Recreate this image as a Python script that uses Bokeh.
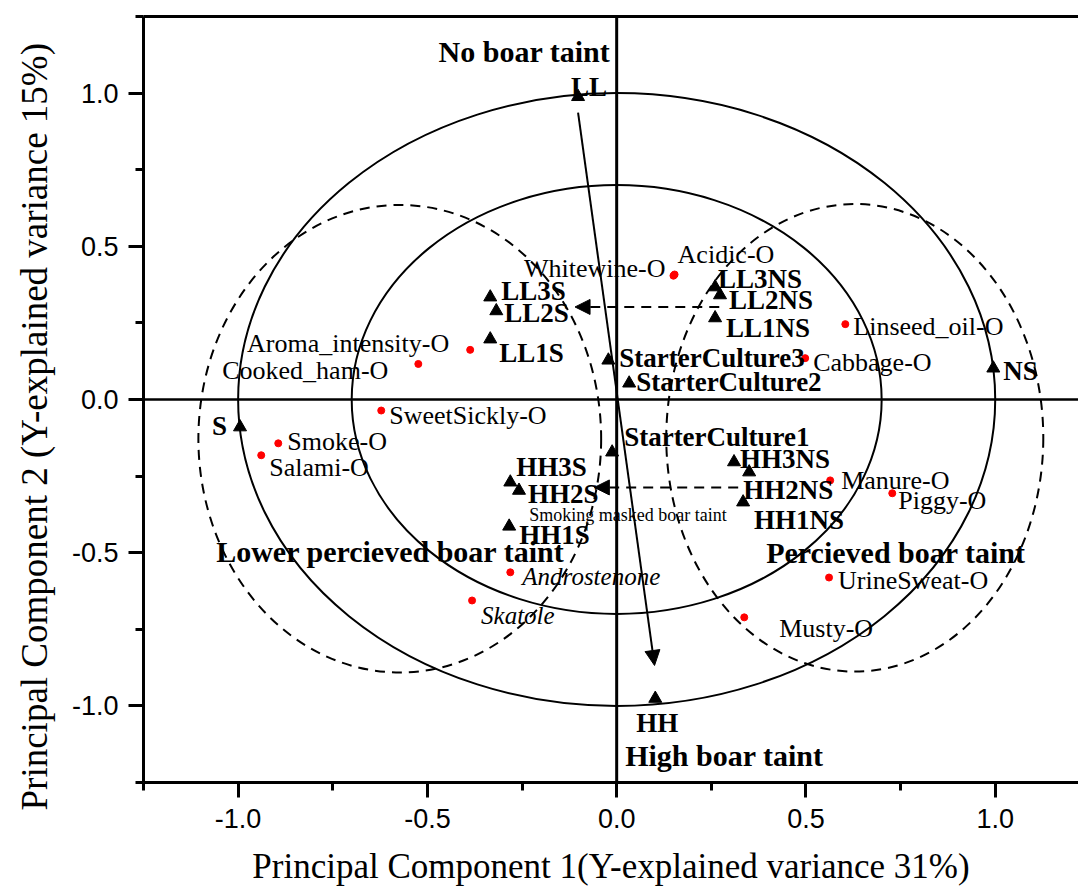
from bokeh.plotting import figure
from bokeh.models import (ColumnDataSource, Span, Arrow, NormalHead, FixedTicker,
                          LinearAxis, Range1d, Title)
from bokeh.core.properties import value
from bokeh.embed import file_html
from bokeh.resources import INLINE

# ---------------- data (PC1, PC2 scores / loadings) ----------------
sample_names = ["LL", "LL3S", "LL2S", "LL1S", "StarterCulture3", "StarterCulture2",
                "StarterCulture1", "LL3NS", "LL2NS", "LL1NS", "NS", "S",
                "HH3NS", "HH2NS", "HH1NS", "HH3S", "HH2S", "HH1S", "HH"]
sample_pc1 = [-0.102, -0.334, -0.318, -0.334, -0.022, 0.033,
              -0.012, 0.260, 0.273, 0.260, 0.995, -0.995,
              0.310, 0.350, 0.334, -0.281, -0.258, -0.284, 0.102]
sample_pc2 = [0.988, 0.334, 0.289, 0.197, 0.128, 0.053,
              -0.172, 0.367, 0.341, 0.266, 0.102, -0.090,
              -0.204, -0.237, -0.335, -0.270, -0.297, -0.414, -0.976]

odor_names = ["Whitewine-O", "Acidic-O", "Aroma_intensity-O", "Cooked_ham-O",
              "SweetSickly-O", "Smoke-O", "Salami-O", "Cabbage-O", "Linseed_oil-O",
              "Manure-O", "Piggy-O", "UrineSweat-O", "Musty-O"]
odor_pc1 = [0.150, 0.153, -0.387, -0.524, -0.622, -0.894, -0.939, 0.498, 0.604,
            0.564, 0.728, 0.561, 0.337]
odor_pc2 = [0.404, 0.408, 0.162, 0.116, -0.036, -0.143, -0.182, 0.135, 0.246,
            -0.264, -0.306, -0.581, -0.711]

compound_names = ["Androstenone", "Skatole"]
compound_pc1 = [-0.281, -0.382]
compound_pc2 = [-0.564, -0.656]

# correlation ellipses (centre x, centre y, full width, full height)
solid_cx = [0.0, 0.0]
solid_cy = [0.0, 0.0]
solid_w = [2.0, 1.40]
solid_h = [2.0, 1.40]
dash_cx = [-0.573, 0.629]
dash_cy = [-0.128, -0.125]
dash_w = [1.064, 0.996]
dash_h = [1.526, 1.526]

# arrows (start -> end)
arrow_x0 = [-0.102, 0.271, 0.321]
arrow_y0 = [0.936, 0.302, -0.287]
arrow_x1 = [0.100, -0.110, -0.059]
arrow_y1 = [-0.868, 0.302, -0.287]
arrow_dash = ["solid", "dashed", "dashed"]

region_text = ["No boar taint", "Lower percieved boar taint", "Percieved boar taint",
               "High boar taint"]
region_x = [-0.017, -1.058, 0.395, 0.0225]
region_y = [1.135, -0.496, -0.499, -1.162]
note_text = ["Smoking masked boar taint"]
note_x = [-0.231]
note_y = [-0.377]

tick_values = [-1.0, -0.5, 0.0, 0.5, 1.0]
tick_labels = ["-1.0", "-0.5", "0.0", "0.5", "1.0"]
minor_values = [-1.25, -0.75, -0.25, 0.25, 0.75, 1.25]

x_title = "Principal Component 1(Y-explained variance 31%)"
y_title = "Principal Component 2 (Y-explained variance 15%)"

# label placement (pixel offsets from the marker, alignment)
sample_dx = [-7, 11, 8, 9, 11, 7, 12, 3, 9, 11, 10, -13, 6, -6, 11, 6, 9, 10, 2]
sample_dy = [-10, -6, 2, 14, -2, -1, -15, -8, 5, 10, 3, -1, -3, 18, 18, -15, 3, 9, 24]
sample_align = ["left"] * 11 + ["right"] + ["left"] * 6 + ["center"]
odor_dx = [-8, 3, -21, -30, 8, 9, 8, 8, 8, 11, 6, 9, 35]
odor_dy = [-7, -20, -6, 7, 5, -2, 12, 4, 2, 0, 7, 3, 11]
odor_align = ["right", "left", "right", "right"] + ["left"] * 9
compound_dx = [12, 9]
compound_dy = [4, 15]

# ---------------- figure ----------------
p = figure(width=1078, height=892, x_range=Range1d(-1.25, 1.22),
           y_range=Range1d(-1.25, 1.25), output_backend="svg",
           toolbar_location=None, min_border_left=143, min_border_right=0,
           min_border_top=16, min_border_bottom=110)
p.grid.visible = False
p.outline_line_color = None
p.background_fill_color = "white"
p.border_fill_color = "white"

for ax in (p.xaxis[0], p.yaxis[0]):
    ax.ticker = FixedTicker(ticks=tick_values, minor_ticks=minor_values)
    ax.major_label_overrides = dict(zip(tick_values, tick_labels))
    ax.axis_line_width = 3
    ax.axis_line_color = "black"
    ax.major_tick_line_width = 3
    ax.minor_tick_line_width = 3
    ax.major_tick_line_color = "black"
    ax.minor_tick_line_color = "black"
    ax.major_tick_out = 15
    ax.major_tick_in = 0
    ax.minor_tick_out = 8
    ax.minor_tick_in = 0
    ax.major_label_text_font = "Liberation Sans"
    ax.major_label_text_font_size = "27px"
    ax.major_label_text_color = "black"
    ax.axis_label_text_font = "Liberation Serif"
    ax.axis_label_text_font_style = "normal"
    ax.axis_label_text_color = "black"

p.xaxis[0].axis_label = x_title
p.xaxis[0].axis_label_text_font_size = "35px"
p.xaxis[0].major_label_standoff = 11
p.xaxis[0].axis_label_standoff = 16
p.yaxis[0].major_label_standoff = 10

# y-axis title as a left-side title, starting a little below the frame bottom
p.add_layout(Title(text=y_title, align="left", offset=-28, standoff=24,
                   vertical_align="top",
                   text_font="Liberation Serif", text_font_size="37px",
                   text_font_style="normal", text_color="black"), "left")

top = LinearAxis(ticker=FixedTicker(ticks=[]), major_label_text_font_size="0px",
                 major_tick_line_color=None, minor_tick_line_color=None,
                 axis_line_width=3, axis_line_color="black")
p.add_layout(top, "above")

# zero lines
p.add_layout(Span(location=0, dimension="height", line_color="black", line_width=3))
p.add_layout(Span(location=0, dimension="width", line_color="black", line_width=2.5))

# ellipses
p.ellipse(x=solid_cx, y=solid_cy, width=solid_w, height=solid_h,
          fill_color=None, line_color="black", line_width=2)
p.ellipse(x=dash_cx, y=dash_cy, width=dash_w, height=dash_h,
          fill_color=None, line_color="black", line_width=2, line_dash="10 7")

# arrows
for x0, y0, x1, y1, d in zip(arrow_x0, arrow_y0, arrow_x1, arrow_y1, arrow_dash):
    p.add_layout(Arrow(end=NormalHead(size=15, fill_color="black", line_color="black"),
                       x_start=x0, y_start=y0, x_end=x1, y_end=y1,
                       line_color="black", line_width=2,
                       line_dash="10 7" if d == "dashed" else "solid"))

# markers
p.scatter(x=sample_pc1, y=sample_pc2, marker="triangle", size=13,
          fill_color="black", line_color="black")
p.scatter(x=odor_pc1 + compound_pc1, y=odor_pc2 + compound_pc2, marker="circle",
          size=7, fill_color="red", line_color="red")

serif = value("Liberation Serif")

for al in ("left", "right", "center"):
    idx = [i for i, a in enumerate(sample_align) if a == al]
    if idx:
        src = ColumnDataSource(dict(
            x=[sample_pc1[i] for i in idx], y=[sample_pc2[i] for i in idx],
            t=[sample_names[i] for i in idx], dx=[sample_dx[i] for i in idx],
            dy=[sample_dy[i] for i in idx]))
        p.text(x="x", y="y", text="t", x_offset="dx", y_offset="dy", source=src,
               text_font=serif, text_font_style="bold", text_font_size=value("27px"),
               text_align=al, text_baseline="middle", text_color="black")
    idx = [i for i, a in enumerate(odor_align) if a == al]
    if idx:
        src = ColumnDataSource(dict(
            x=[odor_pc1[i] for i in idx], y=[odor_pc2[i] for i in idx],
            t=[odor_names[i] for i in idx], dx=[odor_dx[i] for i in idx],
            dy=[odor_dy[i] for i in idx]))
        p.text(x="x", y="y", text="t", x_offset="dx", y_offset="dy", source=src,
               text_font=serif, text_font_style="normal", text_font_size=value("26px"),
               text_align=al, text_baseline="middle", text_color="black")

p.text(x=compound_pc1, y=compound_pc2, text=compound_names, x_offset=compound_dx,
       y_offset=compound_dy, text_font=serif, text_font_style="italic",
       text_font_size=value("25px"), text_align="left", text_baseline="middle",
       text_color="black")

p.text(x=region_x[:1], y=region_y[:1], text=region_text[:1], text_font=serif,
       text_font_style="bold", text_font_size=value("30px"), text_align="right",
       text_baseline="middle", text_color="black")
p.text(x=region_x[1:], y=region_y[1:], text=region_text[1:], text_font=serif,
       text_font_style="bold", text_font_size=value("30px"), text_align="left",
       text_baseline="middle", text_color="black")
p.text(x=note_x, y=note_y, text=note_text, text_font=serif, text_font_style="normal",
       text_font_size=value("18px"), text_align="left", text_baseline="middle",
       text_color="black")

open("out.html", "w").write(file_html(p, INLINE))
